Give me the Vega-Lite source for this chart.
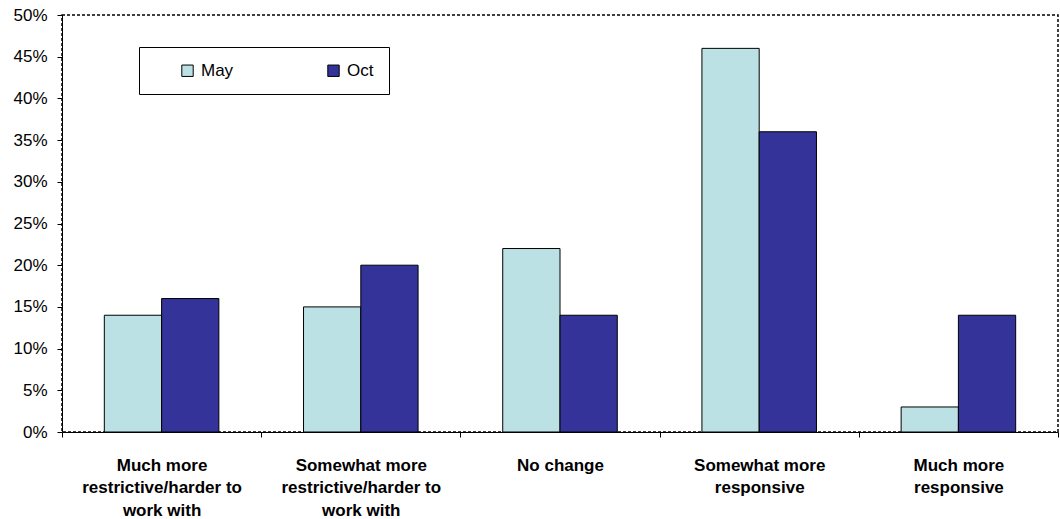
{
  "$schema": "https://vega.github.io/schema/vega-lite/v6.json",
  "width": 996,
  "height": 417,
  "autosize": {"type": "none"},
  "padding": {"left": 62, "top": 15, "right": 2, "bottom": 87},
  "background": "white",
  "config": {
    "view": {"stroke": "black", "strokeDash": [3, 2], "strokeWidth": 1.5},
    "font": "Liberation Sans"
  },
  "data": {
    "values": [
      {"cat": "Much more|restrictive/harder to|work with", "series": "May", "value": 0.14},
      {"cat": "Much more|restrictive/harder to|work with", "series": "Oct", "value": 0.16},
      {"cat": "Somewhat more|restrictive/harder to|work with", "series": "May", "value": 0.15},
      {"cat": "Somewhat more|restrictive/harder to|work with", "series": "Oct", "value": 0.20},
      {"cat": "No change", "series": "May", "value": 0.22},
      {"cat": "No change", "series": "Oct", "value": 0.14},
      {"cat": "Somewhat more|responsive", "series": "May", "value": 0.46},
      {"cat": "Somewhat more|responsive", "series": "Oct", "value": 0.36},
      {"cat": "Much more|responsive", "series": "May", "value": 0.03},
      {"cat": "Much more|responsive", "series": "Oct", "value": 0.14}
    ]
  },
  "mark": {"type": "bar", "stroke": "black", "strokeWidth": 1},
  "encoding": {
    "x": {
      "field": "cat",
      "type": "nominal",
      "sort": null,
      "scale": {"paddingInner": 0, "paddingOuter": 0},
      "axis": {
        "title": null,
        "labelAngle": 0,
        "labelExpr": "split(datum.label, '|')",
        "labelFont": "Liberation Sans",
        "labelFontSize": 17,
        "labelFontWeight": "bold",
        "labelColor": "black",
        "labelLineHeight": 22.5,
        "labelPadding": 20,
        "labelLimit": 300,
        "domainColor": "black",
        "tickColor": "black",
        "tickSize": 5,
        "tickBand": "extent"
      }
    },
    "xOffset": {"field": "series", "type": "nominal", "scale": {"paddingInner": 0, "paddingOuter": 0.739}},
    "y": {
      "field": "value",
      "type": "quantitative",
      "scale": {"domain": [0, 0.5], "nice": false},
      "axis": {
        "title": null,
        "format": ".0%",
        "values": [0, 0.05, 0.1, 0.15, 0.2, 0.25, 0.3, 0.35, 0.4, 0.45, 0.5],
        "grid": false,
        "labelFont": "Liberation Sans",
        "labelFontSize": 17,
        "labelColor": "black",
        "labelPadding": 10,
        "domainColor": "black",
        "tickColor": "black",
        "tickSize": 5
      }
    },
    "color": {
      "field": "series",
      "type": "nominal",
      "scale": {"domain": ["May", "Oct"], "range": ["#BBE1E4", "#333399"]},
      "legend": {
        "title": null,
        "orient": "none",
        "legendX": 77,
        "legendY": 32,
        "direction": "horizontal",
        "strokeColor": "black",
        "fillColor": "white",
        "padding": 15,
        "symbolOffset": 25,
        "symbolType": "square",
        "symbolSize": 130,
        "symbolStrokeColor": "black",
        "symbolStrokeWidth": 1,
        "labelFont": "Liberation Sans",
        "labelFontSize": 17,
        "labelColor": "black",
        "labelOffset": 5,
        "columnPadding": 66,
        "labelExpr": "datum.label + '      '"
      }
    }
  }
}
